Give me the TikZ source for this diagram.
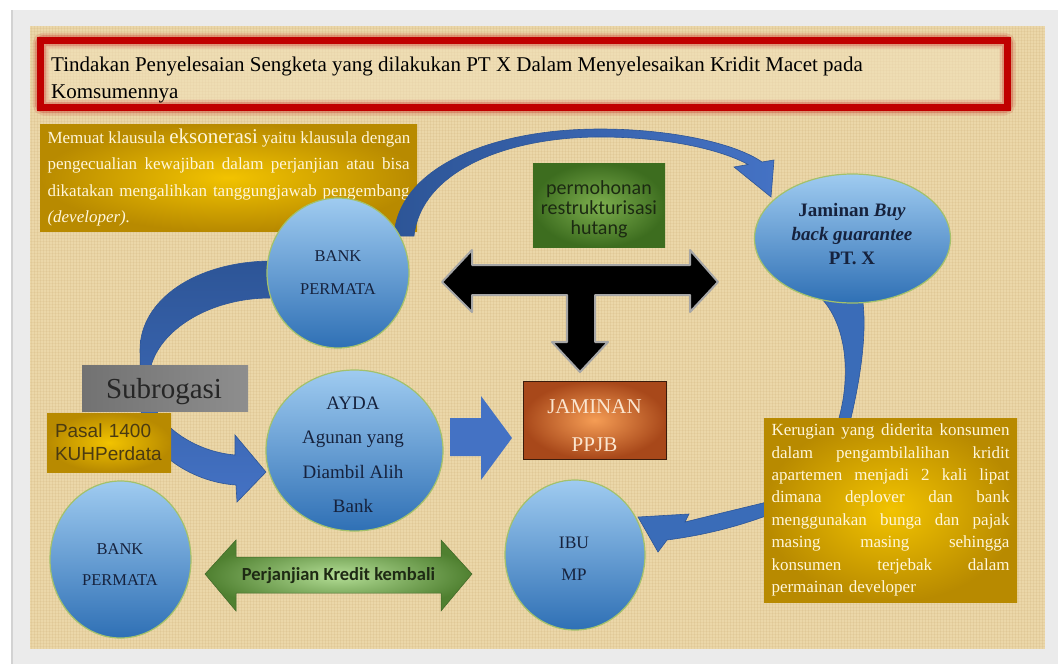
\documentclass[tikz,border=0pt]{standalone}
\usepackage{fontspec}
\setmainfont{Liberation Serif}
\newfontfamily\calib{Carlito}
\newfontfamily\arial{Liberation Sans}
\usetikzlibrary{shapes.geometric}
\definecolor{pagegray}{HTML}{EBEBEB}
\definecolor{edgegray}{HTML}{D2D2D2}
\definecolor{tanbg}{HTML}{EBD7A9}
\definecolor{thread}{HTML}{C4A266}
\definecolor{titlered}{HTML}{C00000}
\definecolor{titlefill}{HTML}{F2E2BD}
\definecolor{golddark}{HTML}{B88A00}
\definecolor{goldlight}{HTML}{F2C300}
\definecolor{cirtop}{HTML}{9FCBF0}
\definecolor{cirbot}{HTML}{2F70B5}
\definecolor{cirline}{HTML}{A3C16B}
\definecolor{navy}{HTML}{16223D}
\definecolor{bandblue}{HTML}{3A6CB8}
\definecolor{banddark}{HTML}{2D5597}
\definecolor{arrowblue}{HTML}{4472C4}
\definecolor{greendark}{HTML}{3D6D1F}
\definecolor{greenlight}{HTML}{7DAE4E}
\definecolor{restrtext}{HTML}{1C2A12}
\definecolor{orgdark}{HTML}{A8481A}
\definecolor{orglight}{HTML}{F59D55}
\definecolor{orgline}{HTML}{3B1C0C}
\definecolor{ppjbtext}{HTML}{FBE6D0}
\definecolor{gdark}{HTML}{4F8030}
\definecolor{glight}{HTML}{B3DD95}
\definecolor{kredittext}{HTML}{1E2A14}
\definecolor{graydark}{HTML}{727272}
\definecolor{graylight}{HTML}{C6C6C6}
\definecolor{grayright}{HTML}{8E8E8E}
\definecolor{cream}{HTML}{FFF6DA}
\definecolor{olivetext}{HTML}{4A3A12}
\newcommand\jline[2]{\leavevmode\hbox to #1{\spaceskip=0.25em plus 1fil\relax #2}}
\tikzset{
  bubble/.style={ellipse, draw=cirline, line width=1.2pt, top color=cirtop, bottom color=cirbot, inner sep=0pt},
  goldbox/.style={rectangle, inner color=goldlight, outer color=golddark},
  circtext/.style={anchor=north, inner sep=0pt, align=center, text=navy},
  bandshape/.style={draw=banddark, line width=0.6pt},
}
\begin{document}
\begin{tikzpicture}[x=1pt,y=-1pt]
\useasboundingbox (0,0) rectangle (1058,664);
% page
\fill[pagegray] (0,0) rectangle (1058,664);
\fill[white] (0,0) rectangle (1058,10);
\fill[white] (0,0) rectangle (11,664);
\fill[edgegray] (11,10) rectangle (13,664);
% burlap panel
\fill[tanbg] (30,26) rectangle (1045,649);
\foreach \x in {31,34,...,1044} {\draw[thread, opacity=0.16, line width=0.7pt] (\x,26) -- (\x,649);}
\foreach \y in {28,31,...,648} {\draw[thread, opacity=0.12, line width=0.7pt] (30,\y) -- (1045,\y);}
% title frame
\fill[titlefill, opacity=0.55] (40.5,40.5) rectangle (1007.5,107.5);
\draw[titlered, opacity=0.12, line width=16pt, rounded corners=4pt] (40.5,40.5) rectangle (1007.5,107.5);
\draw[titlered, opacity=0.22, line width=11pt, rounded corners=3pt] (40.5,40.5) rectangle (1007.5,107.5);
\node[rectangle, draw=titlered, line width=7pt, minimum width=967pt, minimum height=67pt, inner sep=0pt] (title) at (524,74) {};
\node[anchor=north west, inner sep=0pt, align=left, font=\fontsize{21}{27.5}\selectfont] (titletext) at (51,56.4)
  {Tindakan Penyelesaian Sengketa yang dilakukan PT X Dalam Menyelesaikan Kridit Macet pada\\Komsumennya};
% exoneration box
\node[goldbox, minimum width=377pt, minimum height=107pt, text width=362pt, inner xsep=7.5pt, inner ysep=0pt, align=left, text=cream, font=\fontsize{17}{26.5}\selectfont] (exo) at (228.5,177.5)
  {\jline{362pt}{Memuat klausula {\fontsize{21}{26.5}\selectfont eksonerasi} yaitu klausula dengan}\\
   \jline{362pt}{pengecualian kewajiban dalam perjanjian atau bisa}\\
   \jline{362pt}{dikatakan mengalihkan tanggungjawab pengembang}\\
   \textit{(developer).}};
% top arc: Bank Permata -> Buy back guarantee
\path[bandshape, left color=banddark, right color=arrowblue]
  (394,236) .. controls (398,168) and (490,129) .. (600,129)
  .. controls (670,129) and (735,143) .. (762,162)
  -- (774,160) -- (771,197) -- (734,167) -- (748,164.5)
  .. controls (722,150) and (668,137) .. (600,137)
  .. controls (505,137) and (421,172) .. (414,236) -- cycle;
% left arc: Bank Permata -> AYDA (subrogasi)
\path[bandshape, top color=banddark, bottom color=arrowblue]
  (270,261) .. controls (195,262) and (140,300) .. (140,350)
  -- (141,410) .. controls (143,450) and (190,482) .. (236,485)
  -- (237,502) -- (266,472) -- (235,435) -- (235,455)
  .. controls (200,452) and (166,432) .. (153,405)
  -- (150,370) .. controls (158,330) and (210,298) .. (270,298) -- cycle;
% right arc: Buy back guarantee -> Ibu MP
\path[bandshape, fill=bandblue]
  (818,295) .. controls (845,320) and (852,370) .. (839,418)
  .. controls (825,470) and (795,495) .. (763,503)
  .. controls (730,511) and (705,517) .. (685,522)
  -- (689,514) -- (638,517) -- (658,552) -- (667,540)
  .. controls (705,535) and (735,527) .. (763,517)
  .. controls (810,503) and (845,465) .. (851,418)
  .. controls (860,380) and (868,330) .. (862,296) -- cycle;
% circles
\node[bubble, minimum width=142pt, minimum height=150pt] (bank1) at (338,273) {};
\node[bubble, minimum width=177pt, minimum height=161pt] (ayda) at (354.5,450.5) {};
\node[bubble, minimum width=141pt, minimum height=157pt] (bank2) at (120.5,559.5) {};
\node[bubble, minimum width=140pt, minimum height=150pt] (ibu) at (575,555) {};
\node[bubble, minimum width=196pt, minimum height=129pt] (buyback) at (852.5,238.5) {};
\node[circtext, font=\fontsize{16.5}{33}\selectfont] (bank1t) at (338,250.4) {BANK\\PERMATA};
\node[circtext, font=\fontsize{19}{34.5}\selectfont] (aydat) at (353,396.4) {AYDA\\Agunan yang\\Diambil Alih\\Bank};
\node[circtext, font=\fontsize{16.5}{31}\selectfont] (bank2t) at (120,543.4) {BANK\\PERMATA};
\node[circtext, font=\fontsize{17.5}{32}\selectfont] (ibut) at (574,537) {IBU\\MP};
\node[circtext, font=\bfseries\fontsize{19}{24}\selectfont] (buybackt) at (852,203.2) {Jaminan \textit{Buy}\\\textit{back guarantee}\\PT. X};
% black T arrow
\path[draw=gray!70, line width=2pt, fill=black, line join=round]
  (442,282) -- (472,250) -- (472,265) -- (690,265) -- (690,250) -- (718,282)
  -- (690,312) -- (690,295) -- (595,295) -- (595,342) -- (608,342) -- (580,372)
  -- (552,342) -- (567,342) -- (567,295) -- (472,295) -- (472,312) -- cycle;
% restrukturisasi box
\node[rectangle, inner color=greenlight, outer color=greendark, minimum width=132pt, minimum height=84pt, inner sep=0pt] (restr) at (599,205) {};
\node[anchor=north, inner sep=0pt, align=center, text=restrtext, font=\calib\fontsize{20}{20}\selectfont] (restrt) at (599,180) {permohonan\\restrukturisasi\\hutang};
% PPJB box
\node[rectangle, inner color=orglight, outer color=orgdark, draw=orgline, line width=1pt, minimum width=143pt, minimum height=78pt, inner sep=0pt] (ppjb) at (594.5,420) {};
\node[anchor=north, inner sep=0pt, align=center, text=ppjbtext, font=\fontsize{21}{38}\selectfont] (ppjbt) at (594.5,399.1) {JAMINAN\\PPJB};
% AYDA -> PPJB block arrow
\path[fill=arrowblue] (450,418) -- (481,418) -- (481,396) -- (512,438) -- (481,480) -- (481,456) -- (450,456) -- cycle;
% Perjanjian kredit double arrow
\path[inner color=glight, outer color=gdark, draw=gdark!80!black, line width=0.5pt]
  (205,574) -- (236,540) -- (236,557) -- (441,557) -- (441,540) -- (472,574)
  -- (441,611) -- (441,593) -- (236,593) -- (236,611) -- cycle;
\node[font=\calib\bfseries\fontsize{18.5}{20}\selectfont, text=kredittext, inner sep=0pt] (kredit) at (338.5,576) {Perjanjian Kredit kembali};
% Subrogasi
\node[rectangle, left color=graydark, middle color=graylight, right color=grayright, minimum width=166pt, minimum height=46pt, inner sep=0pt] (subro) at (165,388) {};
\node[anchor=base, inner sep=0pt, font=\fontsize{29}{30}\selectfont, text=black!85] (subrot) at (164,398) {Subrogasi};
% Pasal box
\node[goldbox, minimum width=124pt, minimum height=59pt, text width=108pt, inner xsep=8pt, inner ysep=0pt, align=left, text=olivetext, font=\arial\fontsize{19}{23.3}\selectfont] (pasal) at (109,442.5) {Pasal 1400\\KUHPerdata};
% Kerugian box
\node[goldbox, minimum width=253pt, minimum height=184pt, text width=238pt, inner xsep=7.5pt, inner ysep=0pt, align=left, text=cream, font=\fontsize{17}{22.4}\selectfont] (rugi) at (890.5,510)
  {\jline{238pt}{Kerugian yang diderita konsumen}\\
   \jline{238pt}{dalam pengambilalihan kridit}\\
   \jline{238pt}{apartemen menjadi 2 kali lipat}\\
   \jline{238pt}{dimana deplover dan bank}\\
   \jline{238pt}{menggunakan bunga dan pajak}\\
   \jline{238pt}{masing masing sehingga}\\
   \jline{238pt}{konsumen terjebak dalam}\\
   permainan developer};
\end{tikzpicture}
\end{document}
